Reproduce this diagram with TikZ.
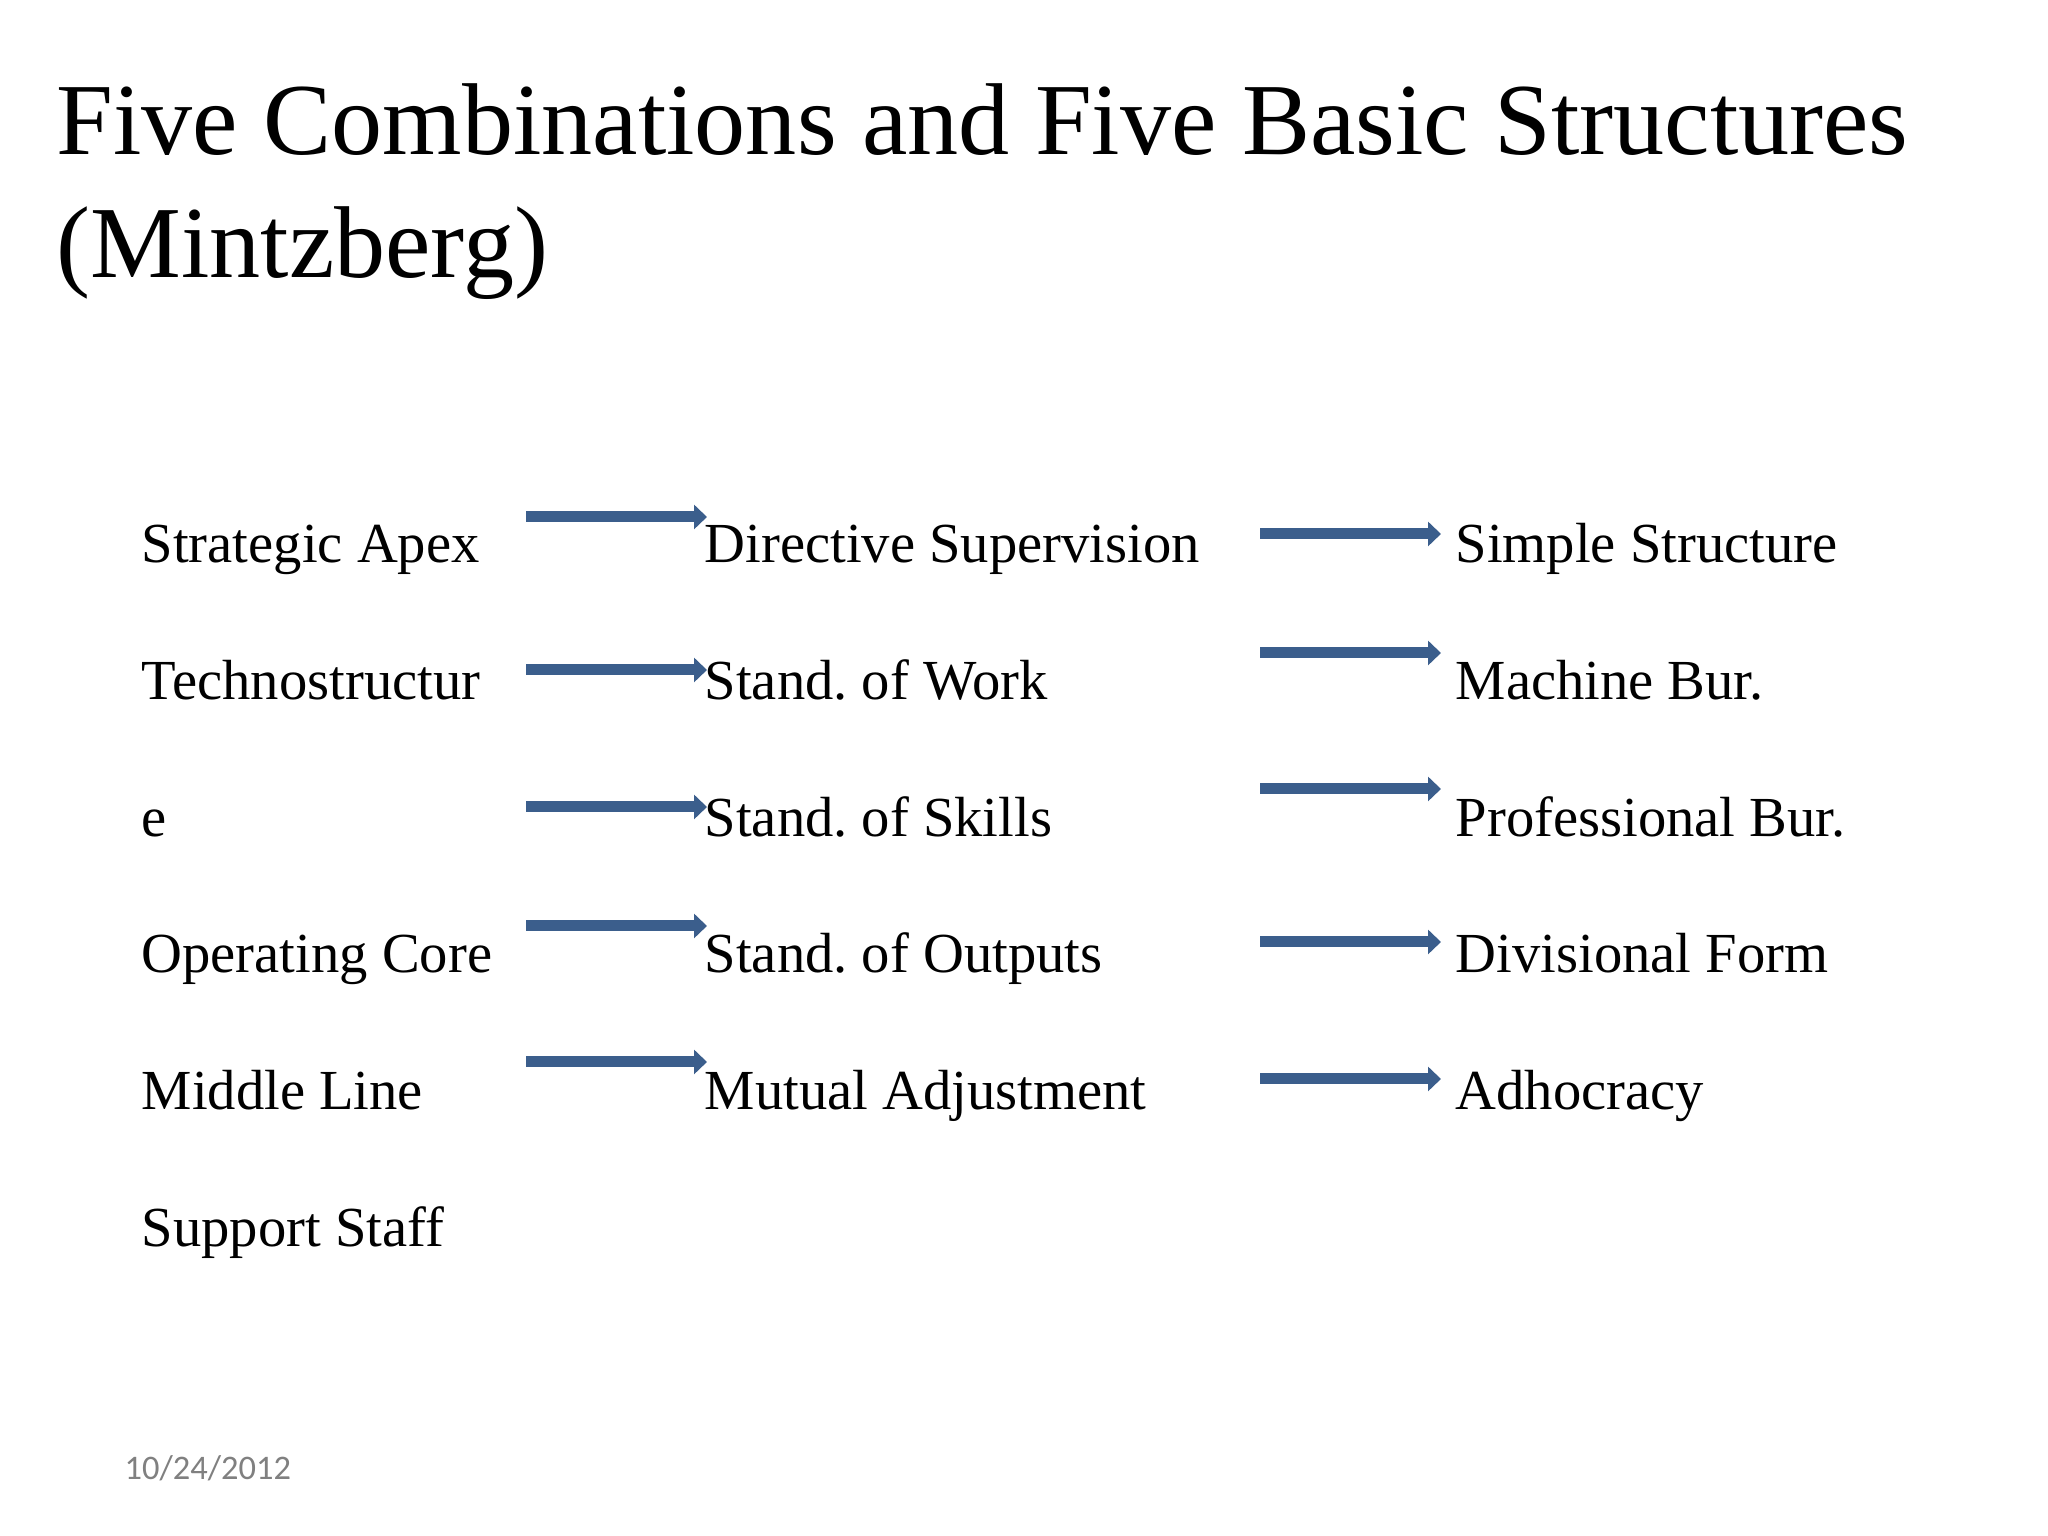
\documentclass[tikz,border=0pt]{standalone}
\usepackage{fontspec}
\setmainfont{Liberation Serif}
\newfontfamily\datefont{Carlito}
\usetikzlibrary{arrows.meta}
\frenchspacing

\definecolor{arrowblue}{RGB}{59,94,140}
\definecolor{dategray}{RGB}{128,128,128}

\tikzset{
    titletext/.style={anchor=base west, inner sep=0pt, font=\fontsize{29.05}{34}\selectfont},
    itemtext/.style={anchor=base west, inner sep=0pt, font=\fontsize{16.1}{20}\selectfont},
    fatarrow/.style={arrowblue, line width=0.11cm, -{Triangle[length=0.13cm, width=0.24cm]}}
}

\begin{document}
\begin{tikzpicture}
    \useasboundingbox (0, 0) rectangle (20.48, 15.36);

    % Title
    \node[titletext] (title1) at (0.56, 13.81) {Five Combinations and Five Basic Structures};
    \node[titletext] (title2) at (0.56, 12.58) {(Mintzberg)};

    % Parts of the organization
    \node[itemtext] (part1) at (1.41, 9.73) {Strategic Apex};
    \node[itemtext] (part2) at (1.41, 8.36) {Technostructur};
    \node[itemtext] (part3) at (1.41, 6.99) {e};
    \node[itemtext] (part4) at (1.41, 5.63) {Operating Core};
    \node[itemtext] (part5) at (1.41, 4.26) {Middle Line};
    \node[itemtext] (part6) at (1.41, 2.89) {Support Staff};

    % Coordinating mechanisms
    \node[itemtext] (mech1) at (7.04, 9.73) {Directive Supervision};
    \node[itemtext] (mech2) at (7.04, 8.36) {Stand. of Work};
    \node[itemtext] (mech3) at (7.04, 6.99) {Stand. of Skills};
    \node[itemtext] (mech4) at (7.04, 5.63) {Stand. of Outputs};
    \node[itemtext] (mech5) at (7.04, 4.26) {Mutual Adjustment};

    % Structures
    \node[itemtext] (form1) at (14.55, 9.73) {Simple Structure};
    \node[itemtext] (form2) at (14.55, 8.36) {Machine Bur.};
    \node[itemtext] (form3) at (14.55, 6.99) {Professional Bur.};
    \node[itemtext] (form4) at (14.55, 5.63) {Divisional Form};
    \node[itemtext] (form5) at (14.55, 4.26) {Adhocracy};

    % Arrow ends
    \foreach \i/\y in {1/10.19, 2/8.66, 3/7.29, 4/6.10, 5/4.74} {
        \coordinate (la\i) at (5.26, \y);
        \coordinate (lb\i) at (7.07, \y);
    }
    \foreach \i/\y in {1/10.02, 2/8.83, 3/7.47, 4/5.94, 5/4.57} {
        \coordinate (ra\i) at (12.60, \y);
        \coordinate (rb\i) at (14.41, \y);
    }

    % Arrows
    \foreach \i in {1,...,5} {
        \draw[fatarrow] (la\i) -- (lb\i);
        \draw[fatarrow] (ra\i) -- (rb\i);
    }

    % Date
    \node[anchor=base west, inner sep=0pt, text=dategray, font=\datefont\fontsize{9.8}{12}\selectfont] (date) at (1.24, 0.56) {10/24/2012};
\end{tikzpicture}
\end{document}
